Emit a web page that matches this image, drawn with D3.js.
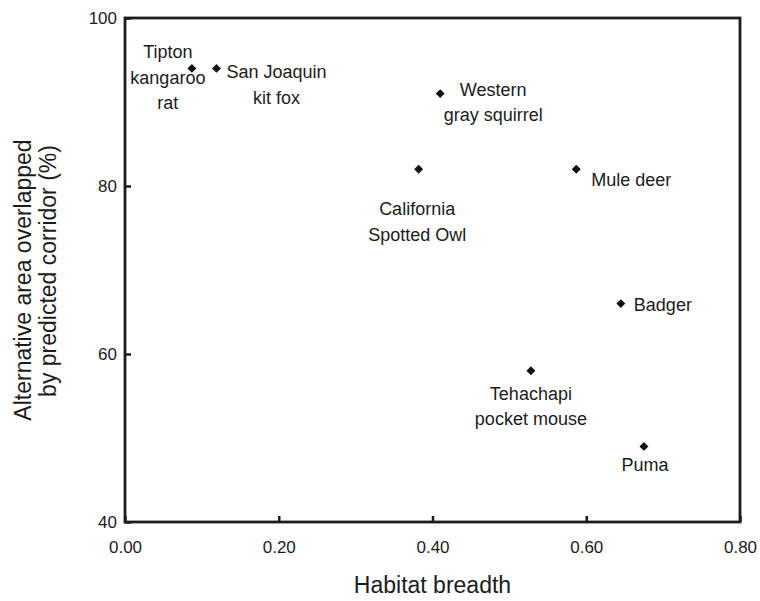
<!DOCTYPE html>
<html>
<head>
<meta charset="utf-8">
<script src="https://cdn.jsdelivr.net/npm/d3@7"></script>
<style>
  html, body { margin: 0; padding: 0; background: #fff; }
  svg { display: block; font-family: "Liberation Sans", Arial, Helvetica, sans-serif; }
</style>
</head>
<body>
<svg id="chart" width="760" height="601"></svg>
<script>
// Species and their habitat breadth vs. overlap of the alternative area
const species = [
  "Tipton kangaroo rat", "San Joaquin kit fox", "Western gray squirrel",
  "California Spotted Owl", "Mule deer", "Badger",
  "Tehachapi pocket mouse", "Puma"
];
const habitatBreadth = [0.087, 0.119, 0.410, 0.382, 0.587, 0.645, 0.528, 0.675];
const overlapPct     = [94, 94, 91, 82, 82, 66, 58, 49];

// Label lines and placement for each species
const labelLines = [
  ["Tipton", "kangaroo", "rat"],
  ["San Joaquin", "kit fox"],
  ["Western", "gray squirrel"],
  ["California", "Spotted Owl"],
  ["Mule deer"],
  ["Badger"],
  ["Tehachapi", "pocket mouse"],
  ["Puma"]
];
// [dx, dy of first baseline, anchor]
const labelPlace = [
  [-24, -10, "middle"],
  [60, 10, "middle"],
  [53, 2, "middle"],
  [-1.5, 46, "middle"],
  [15, 17, "start"],
  [13, 7, "start"],
  [0, 29, "middle"],
  [1, 25, "middle"]
];

const xTicks = [0, 0.2, 0.4, 0.6, 0.8];
const yTicks = [40, 60, 80, 100];

const ink = "#1c1c1c";
const svg = d3.select("#chart");
const m = { left: 125, right: 20, top: 18, bottom: 79 };
const W = 760, H = 601;

const x = d3.scaleLinear().domain([0, 0.8]).range([m.left, W - m.right]);
const y = d3.scaleLinear().domain([40, 100]).range([H - m.bottom, m.top]);

// Frame
svg.append("rect")
  .attr("x", x(0)).attr("y", y(100))
  .attr("width", x(0.8) - x(0)).attr("height", y(40) - y(100))
  .attr("fill", "none").attr("stroke", ink).attr("stroke-width", 2.8);

// X axis (inward ticks)
const xAxis = d3.axisBottom(x).tickValues(xTicks).tickFormat(d3.format(".2f"))
  .tickSizeInner(-6).tickSizeOuter(0).tickPadding(19);
const gx = svg.append("g").attr("transform", `translate(0,${y(40)})`).call(xAxis);
gx.select(".domain").remove();
gx.selectAll(".tick line").attr("stroke", ink).attr("stroke-width", 2.5);
gx.selectAll(".tick text").attr("font-size", 17).attr("fill", ink)
  .attr("font-family", "Liberation Sans, Arial, sans-serif");

// Y axis (inward ticks)
const yAxis = d3.axisLeft(y).tickValues(yTicks).tickFormat(d3.format("d"))
  .tickSizeInner(-6).tickSizeOuter(0).tickPadding(8);
const gy = svg.append("g").attr("transform", `translate(${x(0)},0)`).call(yAxis);
gy.select(".domain").remove();
gy.selectAll(".tick line").attr("stroke", ink).attr("stroke-width", 2.5);
gy.selectAll(".tick text").attr("font-size", 17).attr("fill", ink)
  .attr("font-family", "Liberation Sans, Arial, sans-serif");

// Axis titles
svg.append("text")
  .attr("x", (x(0) + x(0.8)) / 2).attr("y", 593)
  .attr("text-anchor", "middle").attr("font-size", 23).attr("fill", ink)
  .text("Habitat breadth");

const yt = svg.append("text")
  .attr("transform", `rotate(-90)`)
  .attr("text-anchor", "middle").attr("font-size", 23).attr("fill", ink);
yt.append("tspan").attr("x", -280).attr("y", 31).text("Alternative area overlapped");
yt.append("tspan").attr("x", -271).attr("y", 56).text("by predicted corridor (%)");

// Points (small filled diamonds)
const diamond = d3.symbol().type(d3.symbolSquare).size(40);
species.forEach((s, i) => {
  const px = x(habitatBreadth[i]), py = y(overlapPct[i]);
  svg.append("path").attr("d", diamond)
    .attr("transform", `translate(${px},${py}) rotate(45)`)
    .attr("fill", "#111");
  const [dx, dy, anchor] = labelPlace[i];
  const t = svg.append("text").attr("font-size", 18).attr("fill", ink)
    .attr("text-anchor", anchor);
  labelLines[i].forEach((ln, k) => {
    t.append("tspan").attr("x", px + dx).attr("y", py + dy + k * 25.5).text(ln);
  });
});
</script>
</body>
</html>
